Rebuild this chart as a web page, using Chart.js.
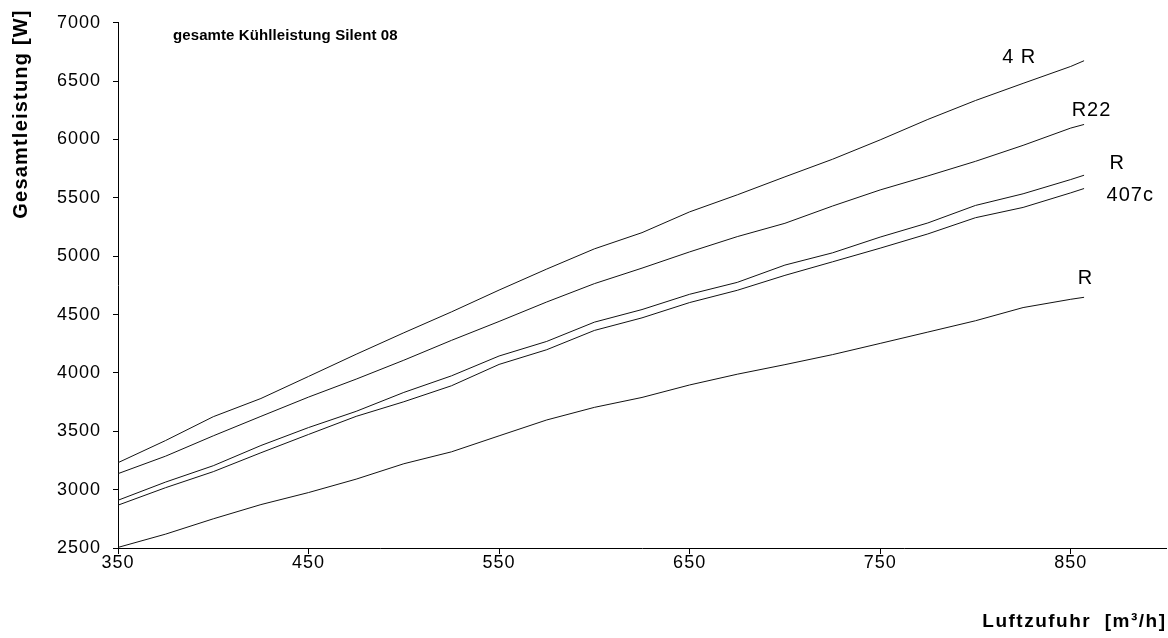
<!DOCTYPE html>
<html>
<head>
<meta charset="utf-8">
<script src="https://cdn.jsdelivr.net/npm/chart.js@4/dist/chart.umd.min.js"></script>
<style>
  html, body { margin: 0; padding: 0; background: #fff; }
  #wrap { width: 1168px; height: 638px; position: relative; }
</style>
</head>
<body>
<div id="wrap"><canvas id="c"></canvas></div>
<script>
// Luftzufuhr in m³/h
const airflow = [350, 375, 400, 425, 450, 475, 500, 525, 550, 575, 600, 625, 650, 675, 700, 725, 750, 775, 800, 825, 850, 857];

// Gesamtleistung in W, one array per curve (top to bottom)
const power4R      = [3231, 3421, 3625, 3781, 3970, 4160, 4344, 4523, 4710, 4890, 5063, 5202, 5380, 5526, 5680, 5831, 5997, 6172, 6334, 6481, 6626, 6675];
const powerR22     = [3137, 3287, 3461, 3628, 3793, 3947, 4109, 4279, 4441, 4608, 4765, 4898, 5037, 5168, 5282, 5430, 5568, 5688, 5813, 5950, 6098, 6129];
const powerRUpper  = [2909, 3065, 3205, 3378, 3532, 3671, 3833, 3975, 4145, 4270, 4435, 4543, 4674, 4776, 4924, 5029, 5164, 5285, 5435, 5535, 5657, 5694];
const power407c    = [2867, 3017, 3154, 3316, 3473, 3628, 3753, 3890, 4073, 4199, 4364, 4472, 4603, 4708, 4836, 4952, 5069, 5191, 5330, 5418, 5543, 5580];
const powerRLower  = [2505, 2619, 2750, 2872, 2975, 3090, 3222, 3324, 3461, 3597, 3705, 3790, 3897, 3989, 4071, 4157, 4253, 4350, 4447, 4560, 4631, 4648];

const xTickValues = [350, 450, 550, 650, 750, 850];
const yMin = 2500, yMax = 7000, yStep = 500;
const xMin = 350, xMax = 900;

const chartTitle = 'gesamte Kühlleistung Silent 08';
const yAxisTitle = 'Gesamtleistung [W]';
const xAxisTitle = 'Luftzufuhr  [m³/h]';
const curveLabels = ['4 R', 'R22', 'R', '407c', 'R'];

const seriesList = [power4R, powerR22, powerRUpper, power407c, powerRLower];
const datasets = seriesList.map((vals, i) => ({
  label: 'Kurve ' + (i + 1),
  data: airflow.map((x, k) => ({ x, y: vals[k] })),
  borderColor: '#111',
  borderWidth: 1,
  pointRadius: 0,
  tension: 0,
  fill: false
}));

// anchor points (in axis units) for the curve labels
const labelAnchors = [
  { x: 814, y: 6652 },
  { x: 850.5, y: 6200 },
  { x: 870.4, y: 5751 },
  { x: 868.8, y: 5473 },
  { x: 853.7, y: 4765 }
];

const FONT = '"Liberation Sans", Arial, Helvetica, sans-serif';

const textPlugin = {
  id: 'chartTexts',
  beforeDraw(chart) {
    chart.ctx.letterSpacing = '1px';
  },
  afterDraw(chart) {
    const { ctx, chartArea, scales: { x, y } } = chart;
    ctx.save();
    ctx.fillStyle = '#000';
    ctx.textBaseline = 'alphabetic';

    // chart title
    ctx.letterSpacing = '0.1px';
    ctx.font = 'bold 15px ' + FONT;
    ctx.textAlign = 'left';
    ctx.fillText(chartTitle, chartArea.left + 55, 40);

    // curve labels
    ctx.letterSpacing = '1px';
    ctx.font = '20px ' + FONT;
    curveLabels.forEach((t, i) => {
      const a = labelAnchors[i];
      ctx.fillText(t, x.getPixelForValue(a.x), y.getPixelForValue(a.y));
    });

    // x axis title
    ctx.letterSpacing = '1.5px';
    ctx.font = 'bold 19px ' + FONT;
    ctx.textAlign = 'right';
    ctx.fillText(xAxisTitle, chartArea.right + 0.5, 627);

    // y axis title (rotated)
    ctx.letterSpacing = '1.2px';
    ctx.font = 'bold 20px ' + FONT;
    ctx.translate(21, 114);
    ctx.rotate(-Math.PI / 2);
    ctx.textAlign = 'center';
    ctx.textBaseline = 'middle';
    ctx.fillText(yAxisTitle, 0, 0);
    ctx.restore();
    ctx.letterSpacing = '0px';
  }
};

new Chart(document.getElementById('c'), {
  type: 'line',
  data: { datasets },
  options: {
    responsive: true,
    maintainAspectRatio: false,
    animation: false,
    events: [],
    layout: { padding: { top: 21, right: 2, left: 0, bottom: 0 } },
    plugins: { legend: { display: false }, tooltip: { enabled: false }, title: { display: false } },
    scales: {
      x: {
        type: 'linear',
        min: xMin,
        max: xMax,
        afterBuildTicks(scale) { scale.ticks = xTickValues.map(v => ({ value: v })); },
        afterFit(scale) { scale.height = 90; },
        grid: { display: true, drawOnChartArea: false, drawTicks: true, tickLength: 6, color: '#000', lineWidth: 1 },
        border: { display: true, color: '#000', width: 1 },
        ticks: {
          color: '#000',
          font: { family: FONT, size: 18 },
          padding: -2,
          maxRotation: 0,
          autoSkip: false,
          callback: v => String(v)
        }
      },
      y: {
        type: 'linear',
        min: yMin,
        max: yMax,
        afterFit(scale) { scale.width = 118; },
        grid: { display: true, drawOnChartArea: false, drawTicks: true, tickLength: 5, color: '#000', lineWidth: 1 },
        border: { display: true, color: '#000', width: 1 },
        ticks: {
          stepSize: yStep,
          color: '#000',
          font: { family: FONT, size: 18 },
          padding: 12,
          callback: v => String(v)
        }
      }
    }
  },
  plugins: [textPlugin]
});
</script>
</body>
</html>
